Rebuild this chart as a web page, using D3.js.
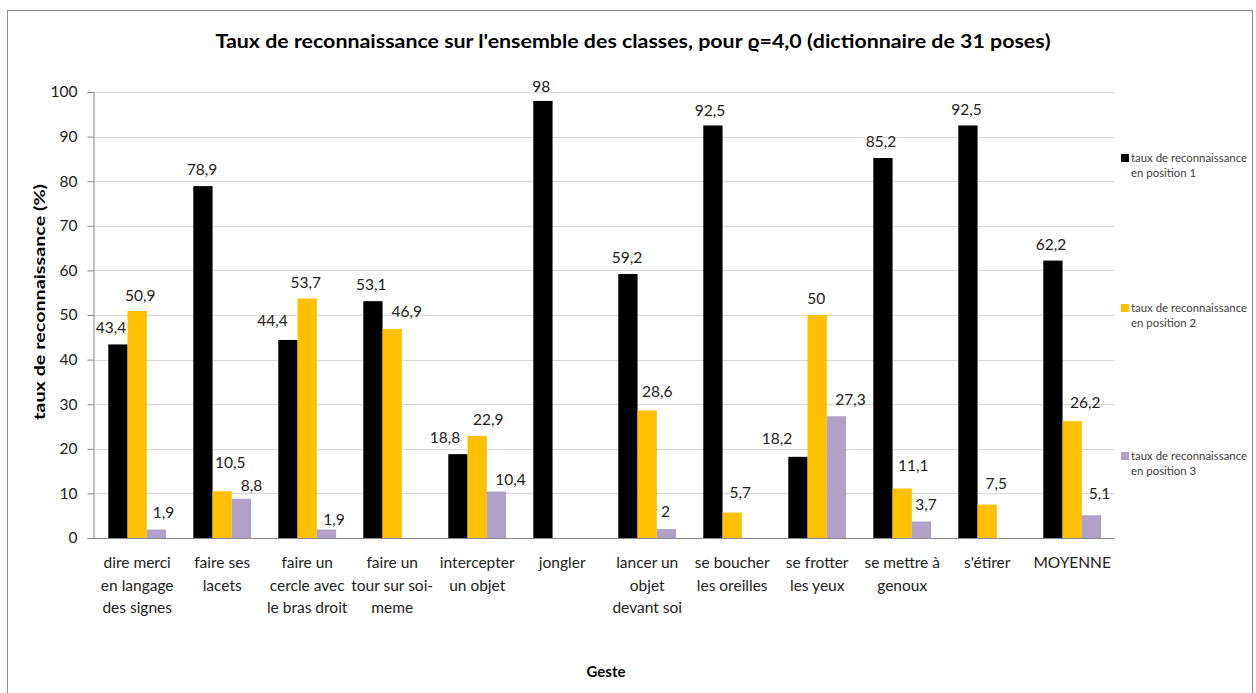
<!DOCTYPE html>
<html>
<head>
<meta charset="utf-8">
<script src="https://cdn.jsdelivr.net/npm/d3@7/dist/d3.min.js"></script>
<style>
  html, body { margin: 0; padding: 0; background: #fff; }
  svg { display: block; }
  text { font-family: Lato, "Open Sans", sans-serif; }
</style>
</head>
<body>
<svg id="chart" width="1256" height="693"></svg>
<script>
// Gestures (categories), each label split into its display lines
const categories = [
  ["dire merci", "en langage", "des signes"],
  ["faire ses", "lacets"],
  ["faire un", "cercle avec", "le bras droit"],
  ["faire un", "tour sur soi-", "meme"],
  ["intercepter", "un objet"],
  ["jongler"],
  ["lancer un", "objet", "devant soi"],
  ["se boucher", "les oreilles"],
  ["se frotter", "les yeux"],
  ["se mettre à", "genoux"],
  ["s'étirer"],
  ["MOYENNE"]
];

const seriesNames = [
  ["taux de reconnaissance", "en position 1"],
  ["taux de reconnaissance", "en position 2"],
  ["taux de reconnaissance", "en position 3"]
];

// Recognition rates (%) ; null = no bar
const position1 = [43.4, 78.9, 44.4, 53.1, 18.8, 98, 59.2, 92.5, 18.2, 85.2, 92.5, 62.2];
const position2 = [50.9, 10.5, 53.7, 46.9, 22.9, null, 28.6, 5.7, 50, 11.1, 7.5, 26.2];
const position3 = [1.9, 8.8, 1.9, null, 10.4, null, 2, null, 27.3, 3.7, null, 5.1];

const yTicks = [0, 10, 20, 30, 40, 50, 60, 70, 80, 90, 100];

// Hand-placed value labels: horizontal / vertical nudges (px) from the bar top centre
const labelDx = [
  [-7, -1, -15.5, -1.7, -13, -1.7, -1, -3, -21, -2, -1.5, -2],
  [3, 8, -1.5, 14.5, 11, 0, 10, 8, -1, 11, 9, 13],
  [7, 10, 7.5, 0, 14, 0, -1, 0, 14, 4.5, 0, 8]
];
const labelDy = [
  [-11, -11, -14, -11, -11.5, -9, -11, -9, -13, -11, -10, -11],
  [-9.5, -23, -10, -11.5, -11, 0, -13.7, -15, -11, -17, -16, -13],
  [-12, -8, -4.5, 0, -6.6, 0, -12, 0, -11, -11.5, 0, -16]
];

const seriesValues = [position1, position2, position3];
const colors = ["#000000", "#FFC000", "#B1A0C7"];

const svg = d3.select("#chart");

// outer chart frame
svg.append("rect")
  .attr("x", 7.5).attr("y", 10.5)
  .attr("width", 1245).attr("height", 700)
  .attr("fill", "#fff").attr("stroke", "#8c8c8c").attr("stroke-width", 1);

const plot = { left: 93.5, right: 1114, top: 92, bottom: 538 };

const x = d3.scaleBand()
  .domain(d3.range(categories.length))
  .range([94.7, 1114.7])
  .paddingInner(0.32).paddingOuter(0.16);

const xs = d3.scaleBand()
  .domain(d3.range(seriesValues.length))
  .range([0, x.bandwidth()]);

const y = d3.scaleLinear().domain([0, 100]).range([plot.bottom, plot.top]);

// horizontal gridlines
svg.append("g")
  .selectAll("line")
  .data(yTicks.filter(d => d > 0))
  .join("line")
  .attr("x1", plot.left).attr("x2", plot.right)
  .attr("y1", d => Math.round(y(d)) + 0.5).attr("y2", d => Math.round(y(d)) + 0.5)
  .attr("stroke", "#d9d9d9").attr("stroke-width", 1);

// y axis
const yAxis = svg.append("g")
  .attr("transform", `translate(${plot.left},0)`)
  .call(d3.axisLeft(y).tickValues(yTicks).tickSize(6).tickPadding(10));
yAxis.select(".domain").attr("stroke", "#868686");
yAxis.selectAll(".tick line").attr("stroke", "#868686");
yAxis.selectAll(".tick text")
  .attr("font-family", "Lato, sans-serif")
  .attr("font-size", 15.5).attr("fill", "#222");

// bars and value labels
const groups = svg.append("g")
  .selectAll("g")
  .data(seriesValues)
  .join("g")
  .attr("fill", (d, i) => colors[i]);

groups.each(function(vals, si) {
  const g = d3.select(this);
  const pts = vals.map((v, ci) => ({ v, ci })).filter(p => p.v !== null);
  g.selectAll("rect")
    .data(pts)
    .join("rect")
    .attr("x", p => x(p.ci) + xs(si))
    .attr("width", xs.bandwidth())
    .attr("y", p => y(p.v))
    .attr("height", p => y(0) - y(p.v));
  g.selectAll("text")
    .data(pts)
    .join("text")
    .attr("x", p => x(p.ci) + xs(si) + xs.bandwidth() / 2 + labelDx[si][p.ci])
    .attr("y", p => y(p.v) + labelDy[si][p.ci])
    .attr("text-anchor", "middle")
    .attr("font-size", 15.5)
    .attr("fill", "#222")
    .text(p => String(p.v).replace(".", ","));
});

// x axis line
svg.append("line")
  .attr("x1", plot.left).attr("x2", plot.right)
  .attr("y1", plot.bottom + 0.5).attr("y2", plot.bottom + 0.5)
  .attr("stroke", "#868686");

// category labels
const catLabels = svg.append("g")
  .selectAll("text")
  .data(categories)
  .join("text")
  .attr("text-anchor", "middle")
  .attr("font-size", 15.5)
  .attr("fill", "#222");
catLabels.each(function(lines, i) {
  d3.select(this).selectAll("tspan")
    .data(lines)
    .join("tspan")
    .attr("x", x(i) + x.bandwidth() / 2)
    .attr("y", (d, j) => 568 + j * 22.5)
    .text(d => d);
});

// title
svg.append("text")
  .attr("x", 633).attr("y", 48)
  .attr("text-anchor", "middle")
  .attr("font-size", 18.5).attr("font-weight", "bold").attr("fill", "#000")
  .attr("textLength", 835).attr("lengthAdjust", "spacingAndGlyphs")
  .text("Taux de reconnaissance sur l'ensemble des classes, pour ϱ=4,0 (dictionnaire de 31 poses)");

// axis titles
svg.append("text")
  .attr("transform", "translate(45,302) rotate(-90)")
  .attr("text-anchor", "middle")
  .attr("font-size", 16).attr("font-weight", "bold").attr("fill", "#000")
  .attr("textLength", 236).attr("lengthAdjust", "spacingAndGlyphs")
  .text("taux de reconnaissance (%)");

svg.append("text")
  .attr("x", 606).attr("y", 677)
  .attr("text-anchor", "middle")
  .attr("font-size", 15).attr("font-weight", "bold").attr("fill", "#000")
  .text("Geste");

// legend
const legendY = [158, 308, 456];
const legend = svg.append("g")
  .selectAll("g")
  .data(seriesNames)
  .join("g")
  .attr("transform", (d, i) => `translate(1121,${legendY[i]})`);
legend.append("rect")
  .attr("x", 0).attr("y", -4).attr("width", 8).attr("height", 8)
  .attr("fill", (d, i) => colors[i]);
legend.append("text")
  .attr("font-size", 11.4).attr("fill", "#404040")
  .selectAll("tspan")
  .data(d => d)
  .join("tspan")
  .attr("x", 10)
  .attr("y", (d, j) => 4 + j * 15)
  .text(d => d);
</script>
</body>
</html>
